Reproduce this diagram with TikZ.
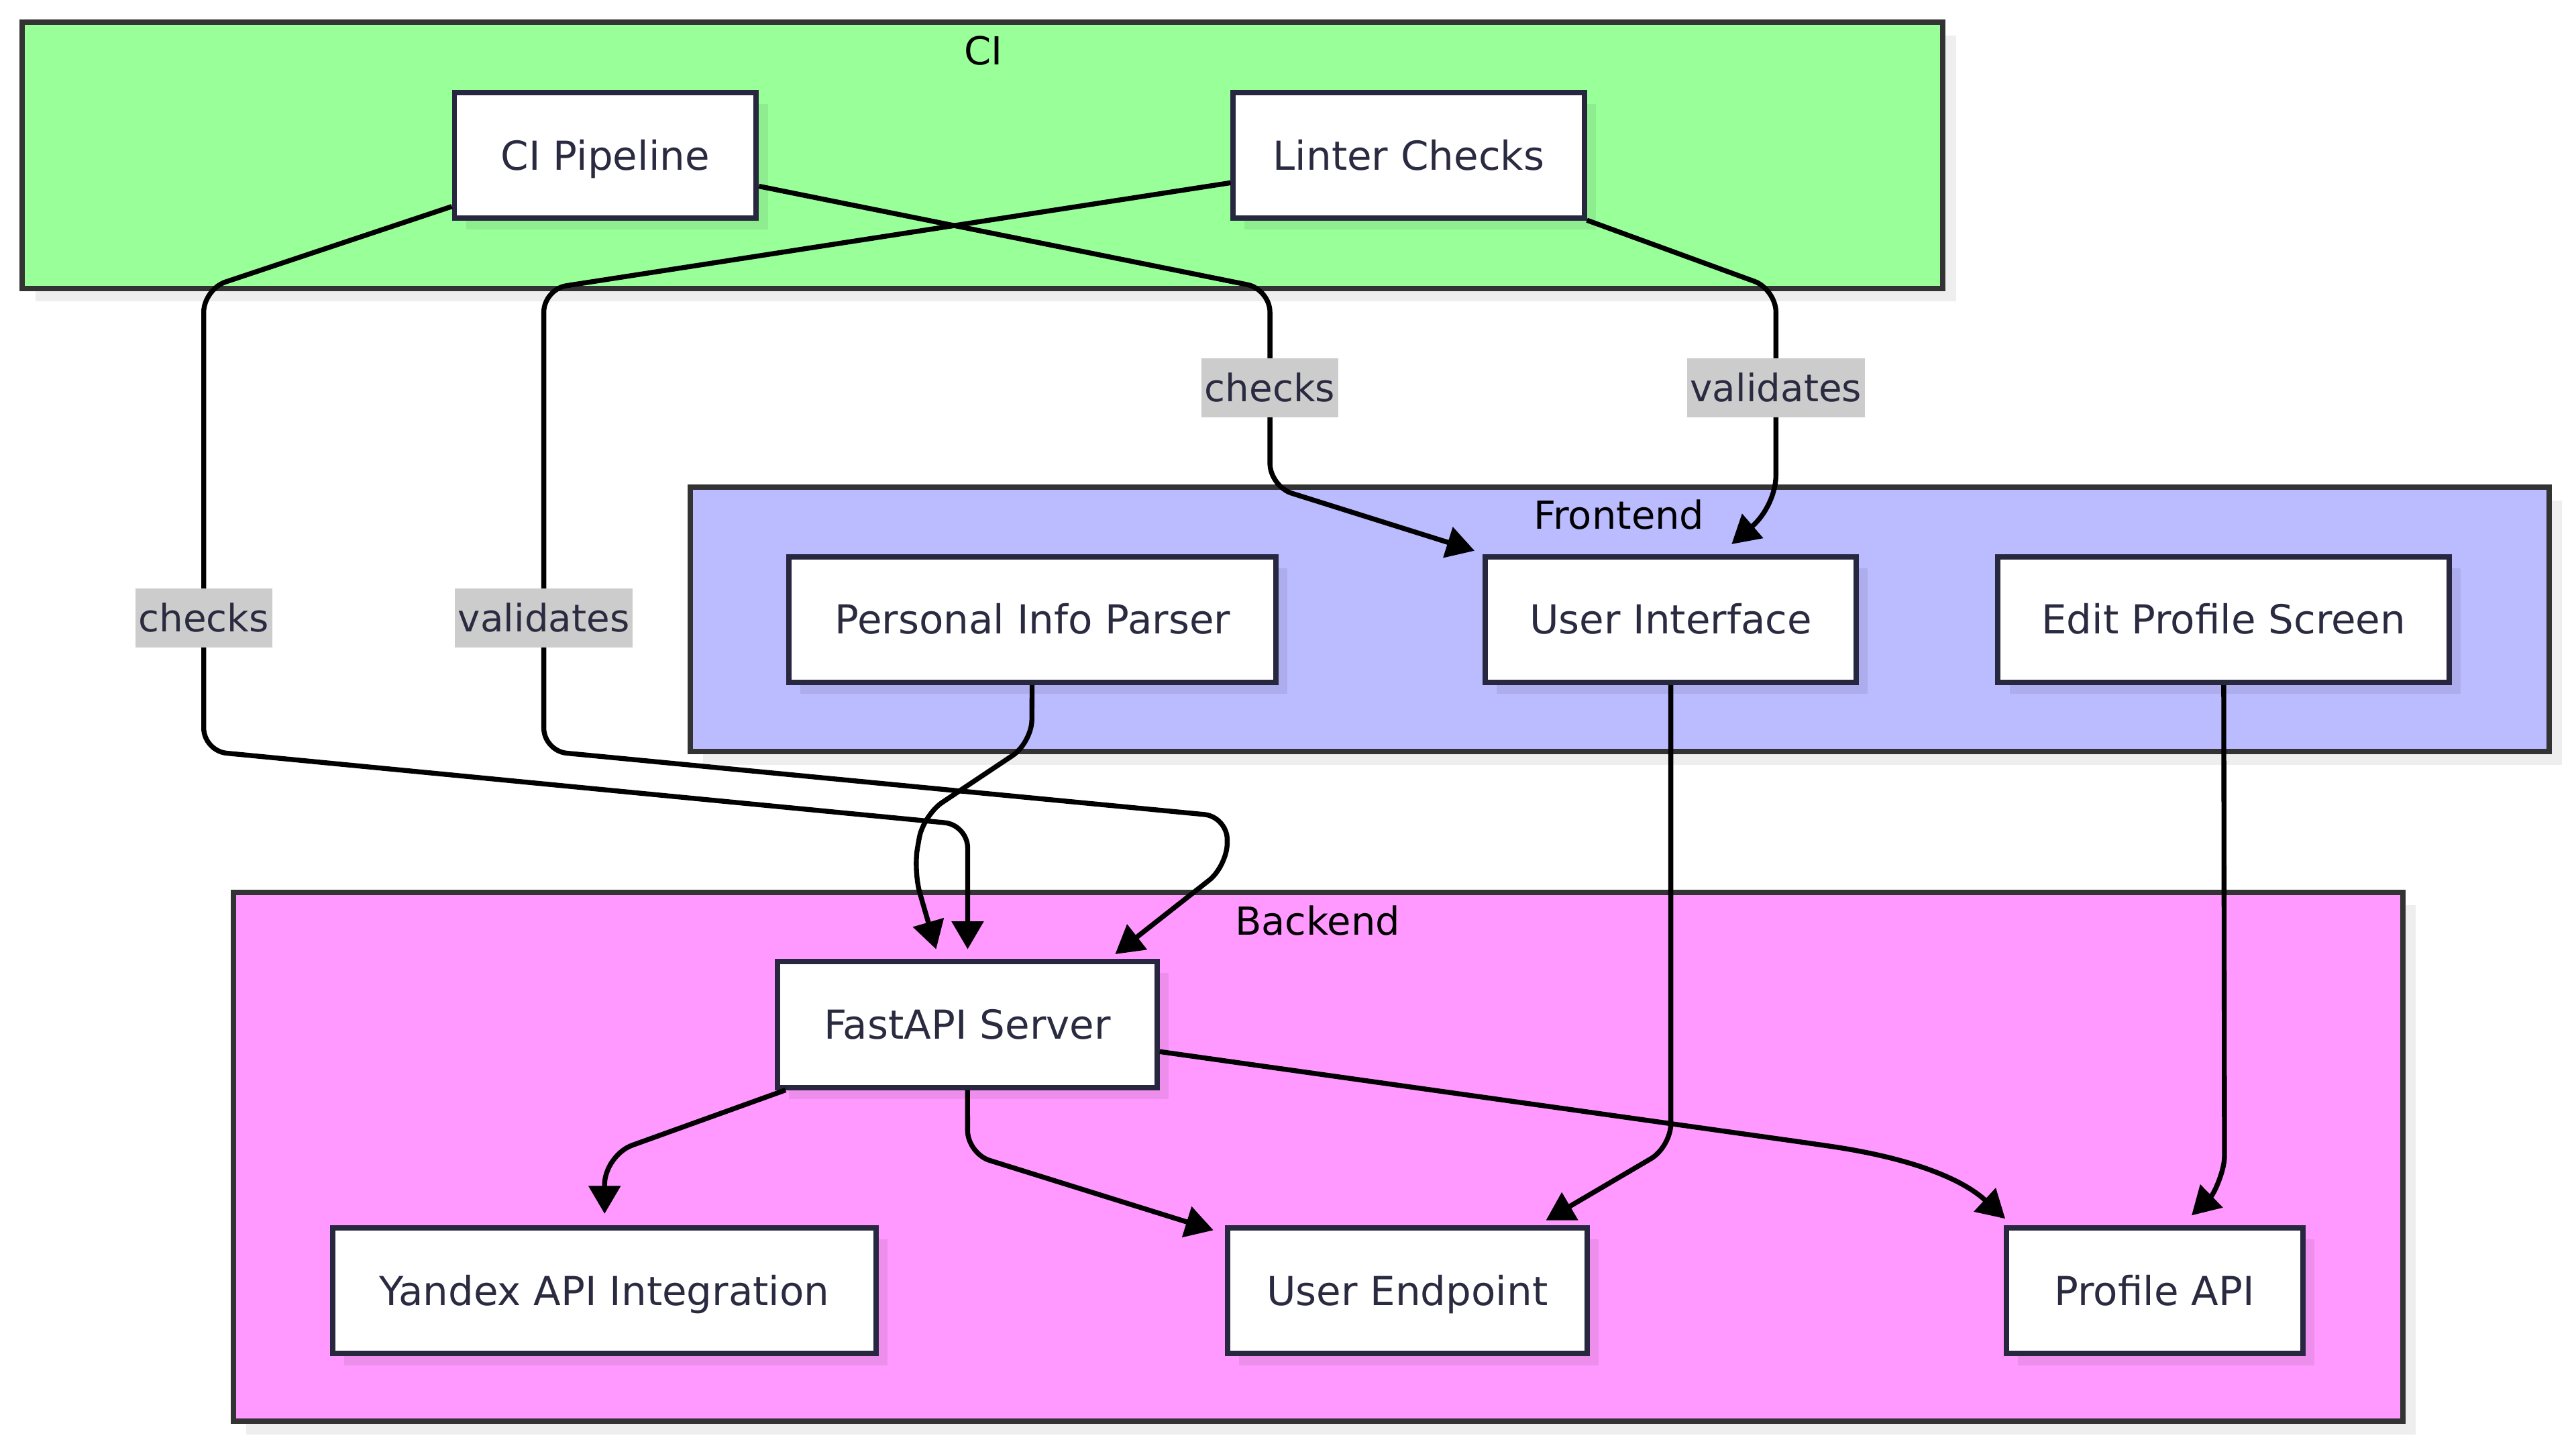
\documentclass[tikz,border=0pt]{standalone}
\usepackage{fontspec}
\setmainfont{DejaVu Sans}
\usetikzlibrary{arrows.meta,shadows,backgrounds}

\definecolor{cigreen}{HTML}{99FF99}
\definecolor{felav}{HTML}{BBBBFF}
\definecolor{bepink}{HTML}{FF99FF}
\definecolor{clborder}{HTML}{333333}
\definecolor{ndborder}{HTML}{272740}
\definecolor{ndtext}{HTML}{2A2A40}
\definecolor{lblfill}{HTML}{CCCCCC}

\pgfdeclarelayer{paper}
\pgfsetlayers{paper,background,main}

\begin{document}
\begin{tikzpicture}[x=1pt,y=-1pt,
  every node/.style={text height=16.4pt, text depth=0pt},
  box/.style={draw=ndborder, line width=3.2pt, fill=white, text=ndtext, minimum height=76.5pt, inner sep=0pt,
    font=\fontsize{24.3}{29}\selectfont, text height=17.7pt,
    drop shadow={shadow xshift=7pt, shadow yshift=-7pt, fill=black, opacity=0.07}},
  cluster/.style={draw=clborder, line width=3.2pt, inner sep=0pt,
    drop shadow={shadow xshift=8pt, shadow yshift=-8pt, fill=black, opacity=0.065}},
  cltitle/.style={text=black, inner sep=0pt, font=\fontsize{23.5}{28}\selectfont, text height=17.1pt},
  elabel/.style={fill=lblfill, text=ndtext, sharp corners, inner xsep=2pt, inner ysep=0pt, minimum height=36pt,
    font=\fontsize{23}{28}\selectfont, text height=16.8pt},
  conn/.style={draw=black, line width=3pt, rounded corners=14pt, -{Triangle[length=17pt,width=19pt]}}
]
\begin{pgfonlayer}{paper}
\fill[white] (0,0) rectangle (1568,882.4);
\end{pgfonlayer}
\useasboundingbox (0,0) rectangle (1568,882.4);

% clusters
\begin{scope}[on background layer]
\node[cluster, fill=cigreen, minimum width=1169pt, minimum height=162pt] (ci) at (598,94.5) {};
\node[cluster, fill=felav, minimum width=1131.5pt, minimum height=161pt] (fe) at (985.75,377) {};
\node[cluster, fill=bepink, minimum width=1320.5pt, minimum height=322pt] (be) at (802.25,704) {};
\end{scope}

\node[cltitle] (tci) at (598.5,31) {CI};
\node[cltitle] (tfe) at (985.5,313.5) {Frontend};
\node[cltitle] (tbe) at (802,560.5) {Backend};

% nodes
\node[box, minimum width=183.7pt] (cip) at (368.5,94.5) {CI Pipeline};
\node[box, minimum width=213.7pt] (lint) at (857.5,94.5) {Linter Checks};
\node[box, minimum width=296.4pt] (pip) at (628.5,377) {Personal Info Parser};
\node[box, minimum width=225.7pt] (ui) at (1017,377) {User Interface};
\node[box, minimum width=274.7pt] (eps) at (1353.5,377) {Edit Profile Screen};
\node[box, minimum width=231pt] (fast) at (588.8,623.5) {FastAPI Server};
\node[box, minimum width=330.7pt] (ya) at (368,785.5) {Yandex API Integration};
\node[box, minimum width=218.8pt] (ue) at (856.6,785.5) {User Endpoint};
\node[box, minimum width=180.7pt] (pa) at (1311.5,785.5) {Profile API};

% connectors
\draw[conn] (cip) -- (124,176) -- (124,376) node[elabel] (l1) {checks} -- (124,457) -- (589,502) -- ([yshift=6pt]fast.north -| 589,0);
\draw[conn] (lint) -- (331,176) -- (331,376) node[elabel] (l2) {validates} -- (331,457) -- (747,497) -- (747,527) -- ([xshift=90pt,yshift=3pt]fast.north);
\draw[conn] (cip) -- (773,176) -- (773,236) node[elabel] (l3) {checks} -- (773,296) -- ([xshift=-5pt,yshift=2pt]ui.north west);
\draw[conn] (lint) -- (1081,176) -- (1081,236) node[elabel] (l4) {validates} -- (1081,275) .. controls (1081,300) and (1075,313) .. ([xshift=37pt,yshift=6pt]ui.north);
\draw[conn] (pip) -- (628,452) -- (562,496) -- (556,530) -- ([xshift=-19pt,yshift=6pt]fast.north);
\draw[conn] (ui) -- (1017,698) -- ([xshift=84.4pt,yshift=3pt]ue.north);
\draw[conn] (eps) -- (1354,690) .. controls (1354,712) and (1348,726) .. ([xshift=22.5pt,yshift=6pt]pa.north);
\draw[conn, rounded corners=18pt] (fast) -- (368,703) -- ([yshift=7pt]ya.north);
\draw[conn] (fast) -- (589,702) -- ([xshift=-7pt,yshift=-3pt]ue.north west);
\draw[conn] (fast) -- (1100,695.5) .. controls (1165,705) and (1195,718) .. ([xshift=1pt,yshift=4pt]pa.north west);
\end{tikzpicture}
\end{document}
